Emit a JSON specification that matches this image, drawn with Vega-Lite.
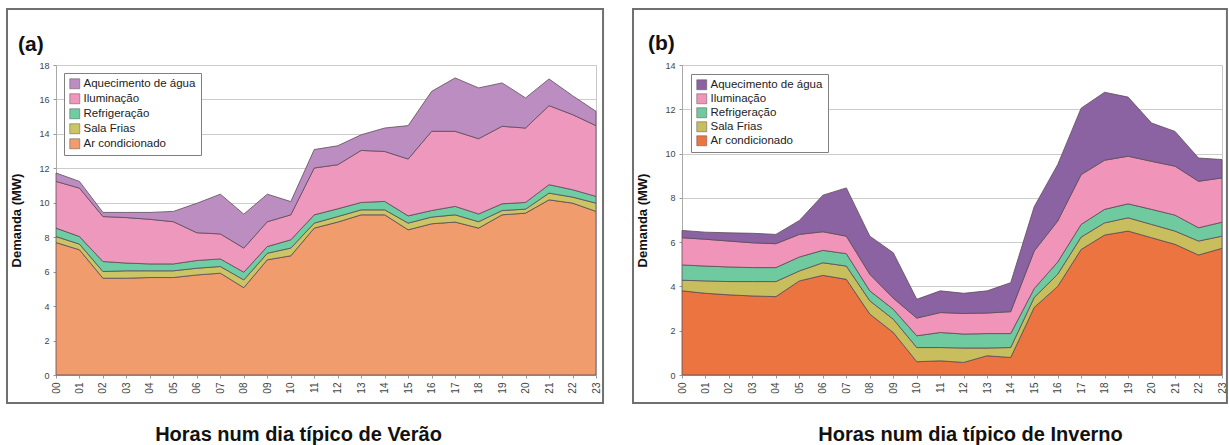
{
  "$schema": "https://vega.github.io/schema/vega-lite/v6.json",
  "padding": {"left": 5, "top": 7, "right": 0, "bottom": 0},
  "spacing": 26,
  "background": "white",
  "datasets": {
    "ordem": [
      {"serie": "Ar condicionado", "ordem": 1},
      {"serie": "Sala Frias", "ordem": 2},
      {"serie": "Refrigeração", "ordem": 3},
      {"serie": "Iluminação", "ordem": 4},
      {"serie": "Aquecimento de água", "ordem": 5}
    ],
    "verao": [
      {"hora": 0, "serie": "Ar condicionado", "valor": 7.69}, {"hora": 0, "serie": "Sala Frias", "valor": 0.35}, {"hora": 0, "serie": "Refrigeração", "valor": 0.49}, {"hora": 0, "serie": "Iluminação", "valor": 2.71}, {"hora": 0, "serie": "Aquecimento de água", "valor": 0.49},
      {"hora": 1, "serie": "Ar condicionado", "valor": 7.27}, {"hora": 1, "serie": "Sala Frias", "valor": 0.33}, {"hora": 1, "serie": "Refrigeração", "valor": 0.44}, {"hora": 1, "serie": "Iluminação", "valor": 2.81}, {"hora": 1, "serie": "Aquecimento de água", "valor": 0.39},
      {"hora": 2, "serie": "Ar condicionado", "valor": 5.62}, {"hora": 2, "serie": "Sala Frias", "valor": 0.39}, {"hora": 2, "serie": "Refrigeração", "valor": 0.58}, {"hora": 2, "serie": "Iluminação", "valor": 2.61}, {"hora": 2, "serie": "Aquecimento de água", "valor": 0.24},
      {"hora": 3, "serie": "Ar condicionado", "valor": 5.62}, {"hora": 3, "serie": "Sala Frias", "valor": 0.43}, {"hora": 3, "serie": "Refrigeração", "valor": 0.45}, {"hora": 3, "serie": "Iluminação", "valor": 2.64}, {"hora": 3, "serie": "Aquecimento de água", "valor": 0.30},
      {"hora": 4, "serie": "Ar condicionado", "valor": 5.66}, {"hora": 4, "serie": "Sala Frias", "valor": 0.39}, {"hora": 4, "serie": "Refrigeração", "valor": 0.40}, {"hora": 4, "serie": "Iluminação", "valor": 2.59}, {"hora": 4, "serie": "Aquecimento de água", "valor": 0.40},
      {"hora": 5, "serie": "Ar condicionado", "valor": 5.66}, {"hora": 5, "serie": "Sala Frias", "valor": 0.39}, {"hora": 5, "serie": "Refrigeração", "valor": 0.40}, {"hora": 5, "serie": "Iluminação", "valor": 2.45}, {"hora": 5, "serie": "Aquecimento de água", "valor": 0.60},
      {"hora": 6, "serie": "Ar condicionado", "valor": 5.81}, {"hora": 6, "serie": "Sala Frias", "valor": 0.39}, {"hora": 6, "serie": "Refrigeração", "valor": 0.45}, {"hora": 6, "serie": "Iluminação", "valor": 1.61}, {"hora": 6, "serie": "Aquecimento de água", "valor": 1.71},
      {"hora": 7, "serie": "Ar condicionado", "valor": 5.91}, {"hora": 7, "serie": "Sala Frias", "valor": 0.39}, {"hora": 7, "serie": "Refrigeração", "valor": 0.44}, {"hora": 7, "serie": "Iluminação", "valor": 1.45}, {"hora": 7, "serie": "Aquecimento de água", "valor": 2.31},
      {"hora": 8, "serie": "Ar condicionado", "valor": 5.07}, {"hora": 8, "serie": "Sala Frias", "valor": 0.45}, {"hora": 8, "serie": "Refrigeração", "valor": 0.45}, {"hora": 8, "serie": "Iluminação", "valor": 1.40}, {"hora": 8, "serie": "Aquecimento de água", "valor": 1.97},
      {"hora": 9, "serie": "Ar condicionado", "valor": 6.69}, {"hora": 9, "serie": "Sala Frias", "valor": 0.38}, {"hora": 9, "serie": "Refrigeração", "valor": 0.39}, {"hora": 9, "serie": "Iluminação", "valor": 1.44}, {"hora": 9, "serie": "Aquecimento de água", "valor": 1.60},
      {"hora": 10, "serie": "Ar condicionado", "valor": 6.92}, {"hora": 10, "serie": "Sala Frias", "valor": 0.45}, {"hora": 10, "serie": "Refrigeração", "valor": 0.48}, {"hora": 10, "serie": "Iluminação", "valor": 1.45}, {"hora": 10, "serie": "Aquecimento de água", "valor": 0.77},
      {"hora": 11, "serie": "Ar condicionado", "valor": 8.53}, {"hora": 11, "serie": "Sala Frias", "valor": 0.29}, {"hora": 11, "serie": "Refrigeração", "valor": 0.48}, {"hora": 11, "serie": "Iluminação", "valor": 2.72}, {"hora": 11, "serie": "Aquecimento de água", "valor": 1.07},
      {"hora": 12, "serie": "Ar condicionado", "valor": 8.88}, {"hora": 12, "serie": "Sala Frias", "valor": 0.32}, {"hora": 12, "serie": "Refrigeração", "valor": 0.45}, {"hora": 12, "serie": "Iluminação", "valor": 2.56}, {"hora": 12, "serie": "Aquecimento de água", "valor": 1.10},
      {"hora": 13, "serie": "Ar condicionado", "valor": 9.30}, {"hora": 13, "serie": "Sala Frias", "valor": 0.29}, {"hora": 13, "serie": "Refrigeração", "valor": 0.43}, {"hora": 13, "serie": "Iluminação", "valor": 3.02}, {"hora": 13, "serie": "Aquecimento de água", "valor": 0.91},
      {"hora": 14, "serie": "Ar condicionado", "valor": 9.30}, {"hora": 14, "serie": "Sala Frias", "valor": 0.29}, {"hora": 14, "serie": "Refrigeração", "valor": 0.49}, {"hora": 14, "serie": "Iluminação", "valor": 2.90}, {"hora": 14, "serie": "Aquecimento de água", "valor": 1.36},
      {"hora": 15, "serie": "Ar condicionado", "valor": 8.43}, {"hora": 15, "serie": "Sala Frias", "valor": 0.39}, {"hora": 15, "serie": "Refrigeração", "valor": 0.42}, {"hora": 15, "serie": "Iluminação", "valor": 3.30}, {"hora": 15, "serie": "Aquecimento de água", "valor": 1.94},
      {"hora": 16, "serie": "Ar condicionado", "valor": 8.78}, {"hora": 16, "serie": "Sala Frias", "valor": 0.39}, {"hora": 16, "serie": "Refrigeração", "valor": 0.38}, {"hora": 16, "serie": "Iluminação", "valor": 4.60}, {"hora": 16, "serie": "Aquecimento de água", "valor": 2.32},
      {"hora": 17, "serie": "Ar condicionado", "valor": 8.88}, {"hora": 17, "serie": "Sala Frias", "valor": 0.42}, {"hora": 17, "serie": "Refrigeração", "valor": 0.49}, {"hora": 17, "serie": "Iluminação", "valor": 4.36}, {"hora": 17, "serie": "Aquecimento de água", "valor": 3.10},
      {"hora": 18, "serie": "Ar condicionado", "valor": 8.53}, {"hora": 18, "serie": "Sala Frias", "valor": 0.37}, {"hora": 18, "serie": "Refrigeração", "valor": 0.45}, {"hora": 18, "serie": "Iluminação", "valor": 4.37}, {"hora": 18, "serie": "Aquecimento de água", "valor": 2.95},
      {"hora": 19, "serie": "Ar condicionado", "valor": 9.30}, {"hora": 19, "serie": "Sala Frias", "valor": 0.25}, {"hora": 19, "serie": "Refrigeração", "valor": 0.39}, {"hora": 19, "serie": "Iluminação", "valor": 4.50}, {"hora": 19, "serie": "Aquecimento de água", "valor": 2.52},
      {"hora": 20, "serie": "Ar condicionado", "valor": 9.40}, {"hora": 20, "serie": "Sala Frias", "valor": 0.23}, {"hora": 20, "serie": "Refrigeração", "valor": 0.39}, {"hora": 20, "serie": "Iluminação", "valor": 4.32}, {"hora": 20, "serie": "Aquecimento de água", "valor": 1.75},
      {"hora": 21, "serie": "Ar condicionado", "valor": 10.17}, {"hora": 21, "serie": "Sala Frias", "valor": 0.39}, {"hora": 21, "serie": "Refrigeração", "valor": 0.49}, {"hora": 21, "serie": "Iluminação", "valor": 4.59}, {"hora": 21, "serie": "Aquecimento de água", "valor": 1.55},
      {"hora": 22, "serie": "Ar condicionado", "valor": 9.98}, {"hora": 22, "serie": "Sala Frias", "valor": 0.35}, {"hora": 22, "serie": "Refrigeração", "valor": 0.43}, {"hora": 22, "serie": "Iluminação", "valor": 4.36}, {"hora": 22, "serie": "Aquecimento de água", "valor": 1.10},
      {"hora": 23, "serie": "Ar condicionado", "valor": 9.50}, {"hora": 23, "serie": "Sala Frias", "valor": 0.48}, {"hora": 23, "serie": "Refrigeração", "valor": 0.39}, {"hora": 23, "serie": "Iluminação", "valor": 4.11}, {"hora": 23, "serie": "Aquecimento de água", "valor": 0.83}
    ],
    "inverno": [
      {"hora": 0, "serie": "Ar condicionado", "valor": 3.80}, {"hora": 0, "serie": "Sala Frias", "valor": 0.48}, {"hora": 0, "serie": "Refrigeração", "valor": 0.69}, {"hora": 0, "serie": "Iluminação", "valor": 1.23}, {"hora": 0, "serie": "Aquecimento de água", "valor": 0.33},
      {"hora": 1, "serie": "Ar condicionado", "valor": 3.69}, {"hora": 1, "serie": "Sala Frias", "valor": 0.56}, {"hora": 1, "serie": "Refrigeração", "valor": 0.67}, {"hora": 1, "serie": "Iluminação", "valor": 1.21}, {"hora": 1, "serie": "Aquecimento de água", "valor": 0.32},
      {"hora": 2, "serie": "Ar condicionado", "valor": 3.62}, {"hora": 2, "serie": "Sala Frias", "valor": 0.60}, {"hora": 2, "serie": "Refrigeração", "valor": 0.66}, {"hora": 2, "serie": "Iluminação", "valor": 1.17}, {"hora": 2, "serie": "Aquecimento de água", "valor": 0.37},
      {"hora": 3, "serie": "Ar condicionado", "valor": 3.57}, {"hora": 3, "serie": "Sala Frias", "valor": 0.65}, {"hora": 3, "serie": "Refrigeração", "valor": 0.63}, {"hora": 3, "serie": "Iluminação", "valor": 1.12}, {"hora": 3, "serie": "Aquecimento de água", "valor": 0.43},
      {"hora": 4, "serie": "Ar condicionado", "valor": 3.54}, {"hora": 4, "serie": "Sala Frias", "valor": 0.68}, {"hora": 4, "serie": "Refrigeração", "valor": 0.63}, {"hora": 4, "serie": "Iluminação", "valor": 1.08}, {"hora": 4, "serie": "Aquecimento de água", "valor": 0.42},
      {"hora": 5, "serie": "Ar condicionado", "valor": 4.25}, {"hora": 5, "serie": "Sala Frias", "valor": 0.45}, {"hora": 5, "serie": "Refrigeração", "valor": 0.63}, {"hora": 5, "serie": "Iluminação", "valor": 1.02}, {"hora": 5, "serie": "Aquecimento de água", "valor": 0.63},
      {"hora": 6, "serie": "Ar condicionado", "valor": 4.50}, {"hora": 6, "serie": "Sala Frias", "valor": 0.57}, {"hora": 6, "serie": "Refrigeração", "valor": 0.56}, {"hora": 6, "serie": "Iluminação", "valor": 0.84}, {"hora": 6, "serie": "Aquecimento de água", "valor": 1.65},
      {"hora": 7, "serie": "Ar condicionado", "valor": 4.32}, {"hora": 7, "serie": "Sala Frias", "valor": 0.60}, {"hora": 7, "serie": "Refrigeração", "valor": 0.56}, {"hora": 7, "serie": "Iluminação", "valor": 0.79}, {"hora": 7, "serie": "Aquecimento de água", "valor": 2.18},
      {"hora": 8, "serie": "Ar condicionado", "valor": 2.75}, {"hora": 8, "serie": "Sala Frias", "valor": 0.60}, {"hora": 8, "serie": "Refrigeração", "valor": 0.45}, {"hora": 8, "serie": "Iluminação", "valor": 0.75}, {"hora": 8, "serie": "Aquecimento de água", "valor": 1.72},
      {"hora": 9, "serie": "Ar condicionado", "valor": 1.92}, {"hora": 9, "serie": "Sala Frias", "valor": 0.60}, {"hora": 9, "serie": "Refrigeração", "valor": 0.45}, {"hora": 9, "serie": "Iluminação", "valor": 0.50}, {"hora": 9, "serie": "Aquecimento de água", "valor": 2.05},
      {"hora": 10, "serie": "Ar condicionado", "valor": 0.60}, {"hora": 10, "serie": "Sala Frias", "valor": 0.64}, {"hora": 10, "serie": "Refrigeração", "valor": 0.53}, {"hora": 10, "serie": "Iluminação", "valor": 0.80}, {"hora": 10, "serie": "Aquecimento de água", "valor": 0.85},
      {"hora": 11, "serie": "Ar condicionado", "valor": 0.64}, {"hora": 11, "serie": "Sala Frias", "valor": 0.60}, {"hora": 11, "serie": "Refrigeração", "valor": 0.68}, {"hora": 11, "serie": "Iluminação", "valor": 0.90}, {"hora": 11, "serie": "Aquecimento de água", "valor": 0.98},
      {"hora": 12, "serie": "Ar condicionado", "valor": 0.57}, {"hora": 12, "serie": "Sala Frias", "valor": 0.65}, {"hora": 12, "serie": "Refrigeração", "valor": 0.63}, {"hora": 12, "serie": "Iluminação", "valor": 0.93}, {"hora": 12, "serie": "Aquecimento de água", "valor": 0.91},
      {"hora": 13, "serie": "Ar condicionado", "valor": 0.87}, {"hora": 13, "serie": "Sala Frias", "valor": 0.35}, {"hora": 13, "serie": "Refrigeração", "valor": 0.65}, {"hora": 13, "serie": "Iluminação", "valor": 0.93}, {"hora": 13, "serie": "Aquecimento de água", "valor": 1.00},
      {"hora": 14, "serie": "Ar condicionado", "valor": 0.79}, {"hora": 14, "serie": "Sala Frias", "valor": 0.45}, {"hora": 14, "serie": "Refrigeração", "valor": 0.63}, {"hora": 14, "serie": "Iluminação", "valor": 0.99}, {"hora": 14, "serie": "Aquecimento de água", "valor": 1.31},
      {"hora": 15, "serie": "Ar condicionado", "valor": 3.05}, {"hora": 15, "serie": "Sala Frias", "valor": 0.45}, {"hora": 15, "serie": "Refrigeração", "valor": 0.40}, {"hora": 15, "serie": "Iluminação", "valor": 1.70}, {"hora": 15, "serie": "Aquecimento de água", "valor": 2.00},
      {"hora": 16, "serie": "Ar condicionado", "valor": 4.00}, {"hora": 16, "serie": "Sala Frias", "valor": 0.55}, {"hora": 16, "serie": "Refrigeração", "valor": 0.55}, {"hora": 16, "serie": "Iluminação", "valor": 1.85}, {"hora": 16, "serie": "Aquecimento de água", "valor": 2.55},
      {"hora": 17, "serie": "Ar condicionado", "valor": 5.67}, {"hora": 17, "serie": "Sala Frias", "valor": 0.56}, {"hora": 17, "serie": "Refrigeração", "valor": 0.57}, {"hora": 17, "serie": "Iluminação", "valor": 2.25}, {"hora": 17, "serie": "Aquecimento de água", "valor": 3.00},
      {"hora": 18, "serie": "Ar condicionado", "valor": 6.32}, {"hora": 18, "serie": "Sala Frias", "valor": 0.55}, {"hora": 18, "serie": "Refrigeração", "valor": 0.61}, {"hora": 18, "serie": "Iluminação", "valor": 2.22}, {"hora": 18, "serie": "Aquecimento de água", "valor": 3.07},
      {"hora": 19, "serie": "Ar condicionado", "valor": 6.50}, {"hora": 19, "serie": "Sala Frias", "valor": 0.60}, {"hora": 19, "serie": "Refrigeração", "valor": 0.63}, {"hora": 19, "serie": "Iluminação", "valor": 2.15}, {"hora": 19, "serie": "Aquecimento de água", "valor": 2.67},
      {"hora": 20, "serie": "Ar condicionado", "valor": 6.20}, {"hora": 20, "serie": "Sala Frias", "valor": 0.60}, {"hora": 20, "serie": "Refrigeração", "valor": 0.68}, {"hora": 20, "serie": "Iluminação", "valor": 2.17}, {"hora": 20, "serie": "Aquecimento de água", "valor": 1.73},
      {"hora": 21, "serie": "Ar condicionado", "valor": 5.90}, {"hora": 21, "serie": "Sala Frias", "valor": 0.60}, {"hora": 21, "serie": "Refrigeração", "valor": 0.72}, {"hora": 21, "serie": "Iluminação", "valor": 2.21}, {"hora": 21, "serie": "Aquecimento de água", "valor": 1.57},
      {"hora": 22, "serie": "Ar condicionado", "valor": 5.42}, {"hora": 22, "serie": "Sala Frias", "valor": 0.63}, {"hora": 22, "serie": "Refrigeração", "valor": 0.60}, {"hora": 22, "serie": "Iluminação", "valor": 2.10}, {"hora": 22, "serie": "Aquecimento de água", "valor": 1.05},
      {"hora": 23, "serie": "Ar condicionado", "valor": 5.72}, {"hora": 23, "serie": "Sala Frias", "valor": 0.55}, {"hora": 23, "serie": "Refrigeração", "valor": 0.63}, {"hora": 23, "serie": "Iluminação", "valor": 2.00}, {"hora": 23, "serie": "Aquecimento de água", "valor": 0.83}
    ]
  },
  "hconcat": [
    {
      "width": 540,
      "height": 310,
      "layer": [
        {
          "data": {"name": "verao"},
          "transform": [{"lookup": "serie", "from": {"data": {"name": "ordem"}, "key": "serie", "fields": ["ordem"]}}],
          "mark": {"type": "area", "interpolate": "linear", "stroke": "#5e4a58", "strokeWidth": 0.8},
          "encoding": {
            "x": {"field": "hora", "type": "quantitative", "scale": {"domain": [0, 23], "nice": false, "zero": false},
              "axis": {"values": [0,1,2,3,4,5,6,7,8,9,10,11,12,13,14,15,16,17,18,19,20,21,22,23], "format": "02d", "labelAngle": -90, "labelFontSize": 10, "labelPadding": 4, "tickSize": 3, "grid": false, "labelOverlap": false, "labelFlush": false,
                "title": "Horas num dia típico de Verão", "titleFontSize": 20, "titleFontWeight": "bold", "titleX": 242, "titleY": 65, "titleAlign": "center", "titleBaseline": "alphabetic"}},
            "y": {"field": "valor", "type": "quantitative", "stack": "zero", "scale": {"domain": [0, 18], "nice": false},
              "axis": {"values": [0,2,4,6,8,10,12,14,16,18], "labelFontSize": 9, "labelPadding": 4, "tickSize": 3, "grid": true, "labelOverlap": false, "labelFlush": false,
                "title": "Demanda (MW)", "titleFontSize": 13, "titleFontWeight": "bold", "titlePadding": 15}},
            "color": {"field": "serie", "type": "nominal",
              "scale": {"domain": ["Aquecimento de água", "Iluminação", "Refrigeração", "Sala Frias", "Ar condicionado"], "range": ["#BB8DC1", "#EF98BE", "#6ECDA2", "#CBC565", "#F09C6C"]},
              "legend": {"title": null, "orient": "top-left", "offset": 8, "fillColor": "white", "strokeColor": "#808080", "padding": 5, "symbolType": "square", "symbolSize": 100, "labelFontSize": 11.5, "rowPadding": 2, "labelOffset": 3, "labelColor": "#222222", "symbolStrokeColor": "#555555", "symbolStrokeWidth": 0.5}},
            "order": {"field": "ordem", "type": "quantitative"}
          }
        },
        {
          "data": {"values": [{"rotulo": "(a)"}]},
          "mark": {"type": "text", "align": "left", "baseline": "alphabetic", "fontSize": 21, "fontWeight": "bold", "color": "#111111", "clip": false},
          "encoding": {
            "x": {"datum": -1.62, "type": "quantitative",
              "axis": {"values": [0,1,2,3,4,5,6,7,8,9,10,11,12,13,14,15,16,17,18,19,20,21,22,23], "format": "02d", "labelAngle": -90, "labelFontSize": 10, "labelPadding": 4, "tickSize": 3, "grid": false, "labelOverlap": false, "labelFlush": false,
                "title": "Horas num dia típico de Verão", "titleFontSize": 20, "titleFontWeight": "bold", "titleX": 242, "titleY": 65, "titleAlign": "center", "titleBaseline": "alphabetic"}},
            "y": {"datum": 18.82, "type": "quantitative",
              "axis": {"values": [0,2,4,6,8,10,12,14,16,18], "labelFontSize": 9, "labelPadding": 4, "tickSize": 3, "grid": true, "labelOverlap": false, "labelFlush": false,
                "title": "Demanda (MW)", "titleFontSize": 13, "titleFontWeight": "bold", "titlePadding": 15}},
            "text": {"field": "rotulo"}}
        },
        {
          "data": {"values": [{}]},
          "mark": {"type": "rect", "filled": false, "stroke": "#707070", "strokeWidth": 2, "clip": false},
          "encoding": {
            "x": {"datum": -2.087, "type": "quantitative",
              "axis": {"values": [0,1,2,3,4,5,6,7,8,9,10,11,12,13,14,15,16,17,18,19,20,21,22,23], "format": "02d", "labelAngle": -90, "labelFontSize": 10, "labelPadding": 4, "tickSize": 3, "grid": false, "labelOverlap": false, "labelFlush": false,
                "title": "Horas num dia típico de Verão", "titleFontSize": 20, "titleFontWeight": "bold", "titleX": 242, "titleY": 65, "titleAlign": "center", "titleBaseline": "alphabetic"}},
            "x2": {"datum": 23.3},
            "y": {"datum": -1.63, "type": "quantitative",
              "axis": {"values": [0,2,4,6,8,10,12,14,16,18], "labelFontSize": 9, "labelPadding": 4, "tickSize": 3, "grid": true, "labelOverlap": false, "labelFlush": false,
                "title": "Demanda (MW)", "titleFontSize": 13, "titleFontWeight": "bold", "titlePadding": 15}},
            "y2": {"datum": 21.25}}
        }
      ]
    },
    {
      "width": 540,
      "height": 310,
      "layer": [
        {
          "data": {"name": "inverno"},
          "transform": [{"lookup": "serie", "from": {"data": {"name": "ordem"}, "key": "serie", "fields": ["ordem"]}}],
          "mark": {"type": "area", "interpolate": "linear", "stroke": "#5e4a58", "strokeWidth": 0.8},
          "encoding": {
            "x": {"field": "hora", "type": "quantitative", "scale": {"domain": [0, 23], "nice": false, "zero": false},
              "axis": {"values": [0,1,2,3,4,5,6,7,8,9,10,11,12,13,14,15,16,17,18,19,20,21,22,23], "format": "02d", "labelAngle": -90, "labelFontSize": 10, "labelPadding": 4, "tickSize": 3, "grid": false, "labelOverlap": false, "labelFlush": false,
                "title": "Horas num dia típico de Inverno", "titleFontSize": 20, "titleFontWeight": "bold", "titleX": 288, "titleY": 65, "titleAlign": "center", "titleBaseline": "alphabetic"}},
            "y": {"field": "valor", "type": "quantitative", "stack": "zero", "scale": {"domain": [0, 14], "nice": false},
              "axis": {"values": [0,2,4,6,8,10,12,14], "labelFontSize": 9, "labelPadding": 4, "tickSize": 3, "grid": true, "labelOverlap": false, "labelFlush": false,
                "title": "Demanda (MW)", "titleFontSize": 13, "titleFontWeight": "bold", "titlePadding": 15}},
            "color": {"field": "serie", "type": "nominal",
              "scale": {"domain": ["Aquecimento de água", "Iluminação", "Refrigeração", "Sala Frias", "Ar condicionado"], "range": ["#8B63A3", "#F194B9", "#6FCB9F", "#C9BE5E", "#EC7440"]},
              "legend": {"title": null, "orient": "top-left", "offset": 9, "fillColor": "white", "strokeColor": "#808080", "padding": 5, "symbolType": "square", "symbolSize": 100, "labelFontSize": 11.5, "rowPadding": 1, "labelOffset": 3, "labelColor": "#222222", "symbolStrokeColor": "#555555", "symbolStrokeWidth": 0.5}},
            "order": {"field": "ordem", "type": "quantitative"}
          }
        },
        {
          "data": {"values": [{"rotulo": "(b)"}]},
          "mark": {"type": "text", "align": "left", "baseline": "alphabetic", "fontSize": 21, "fontWeight": "bold", "color": "#111111", "clip": false},
          "encoding": {
            "x": {"datum": -1.45, "type": "quantitative",
              "axis": {"values": [0,1,2,3,4,5,6,7,8,9,10,11,12,13,14,15,16,17,18,19,20,21,22,23], "format": "02d", "labelAngle": -90, "labelFontSize": 10, "labelPadding": 4, "tickSize": 3, "grid": false, "labelOverlap": false, "labelFlush": false,
                "title": "Horas num dia típico de Inverno", "titleFontSize": 20, "titleFontWeight": "bold", "titleX": 288, "titleY": 65, "titleAlign": "center", "titleBaseline": "alphabetic"}},
            "y": {"datum": 14.68, "type": "quantitative",
              "axis": {"values": [0,2,4,6,8,10,12,14], "labelFontSize": 9, "labelPadding": 4, "tickSize": 3, "grid": true, "labelOverlap": false, "labelFlush": false,
                "title": "Demanda (MW)", "titleFontSize": 13, "titleFontWeight": "bold", "titlePadding": 15}},
            "text": {"field": "rotulo"}}
        },
        {
          "data": {"values": [{}]},
          "mark": {"type": "rect", "filled": false, "stroke": "#707070", "strokeWidth": 2, "clip": false},
          "encoding": {
            "x": {"datum": -2.087, "type": "quantitative",
              "axis": {"values": [0,1,2,3,4,5,6,7,8,9,10,11,12,13,14,15,16,17,18,19,20,21,22,23], "format": "02d", "labelAngle": -90, "labelFontSize": 10, "labelPadding": 4, "tickSize": 3, "grid": false, "labelOverlap": false, "labelFlush": false,
                "title": "Horas num dia típico de Inverno", "titleFontSize": 20, "titleFontWeight": "bold", "titleX": 288, "titleY": 65, "titleAlign": "center", "titleBaseline": "alphabetic"}},
            "x2": {"datum": 23.21},
            "y": {"datum": -1.26, "type": "quantitative",
              "axis": {"values": [0,2,4,6,8,10,12,14], "labelFontSize": 9, "labelPadding": 4, "tickSize": 3, "grid": true, "labelOverlap": false, "labelFlush": false,
                "title": "Demanda (MW)", "titleFontSize": 13, "titleFontWeight": "bold", "titlePadding": 15}},
            "y2": {"datum": 16.53}}
        }
      ]
    }
  ],
  "resolve": {"scale": {"color": "independent", "x": "independent", "y": "independent"}, "legend": {"color": "independent"}},
  "config": {
    "font": "Liberation Sans",
    "view": {"stroke": "#c8c8c8", "strokeWidth": 1},
    "axis": {"labelColor": "#444444", "domainColor": "#aaaaaa", "tickColor": "#999999", "gridColor": "#cccccc", "titleColor": "#111111"}
  }
}
